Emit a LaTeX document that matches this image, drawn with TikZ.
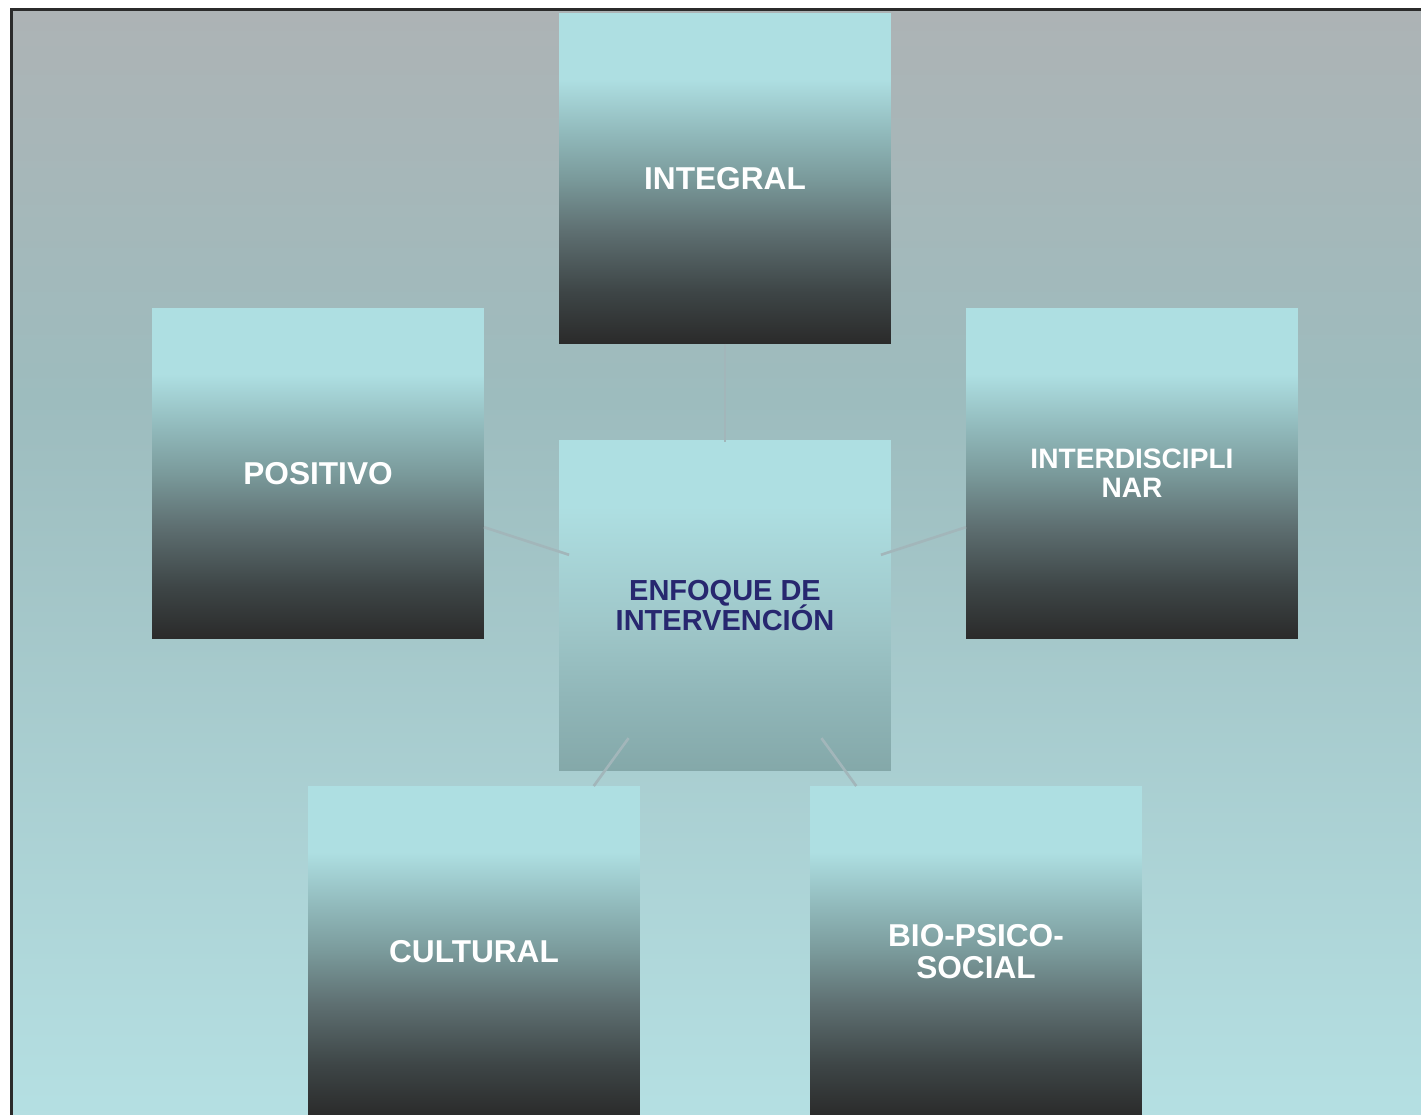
\documentclass[tikz,border=0pt]{standalone}
\usepackage{fontspec}
\setmainfont{Liberation Sans}
\usepackage{tikz}
\usetikzlibrary{positioning,calc}
\definecolor{boxcyan}{HTML}{AEDFE2}
\definecolor{boxa}{HTML}{93BCBE}
\definecolor{boxb}{HTML}{7A9A9B}
\definecolor{boxc}{HTML}{5E6F71}
\definecolor{boxd}{HTML}{3E4647}
\definecolor{boxdark}{HTML}{2A2A2A}
\definecolor{hubb}{HTML}{9EC6C8}
\definecolor{hubc}{HTML}{90B6B8}
\definecolor{hubdark}{HTML}{84A8A9}
\definecolor{bgtop}{HTML}{ADB3B5}
\definecolor{bgmid}{HTML}{9DBCBE}
\definecolor{bgbottom}{HTML}{B5E0E3}
\definecolor{navytext}{HTML}{27276F}
\definecolor{linkgray}{HTML}{A2B6BA}
\definecolor{framegray}{HTML}{2B2B2B}
\pgfdeclareverticalshading{boxshade}{100bp}{color(0bp)=(boxdark); color(25bp)=(boxdark); color(33bp)=(boxd); color(42bp)=(boxc); color(50bp)=(boxb); color(57.5bp)=(boxa); color(65bp)=(boxcyan); color(100bp)=(boxcyan)}
\pgfdeclareverticalshading{hubshade}{100bp}{color(0bp)=(hubdark); color(25bp)=(hubdark); color(36bp)=(hubc); color(46.5bp)=(hubb); color(65bp)=(boxcyan); color(100bp)=(boxcyan)}
\pgfdeclareverticalshading{bgshade}{100bp}{color(0bp)=(bgbottom); color(25bp)=(bgbottom); color(57.5bp)=(bgmid); color(75bp)=(bgtop); color(100bp)=(bgtop)}
\newcommand\hubfont{\fontsize{16.5}{17}\selectfont\bfseries\lineskiplimit=-20pt\relax}

\begin{document}
\begin{tikzpicture}[x=0.02cm,y=-0.02cm,
  outer/.style={rectangle, minimum width=6.64cm, minimum height=6.62cm, inner sep=0pt, outer sep=0pt,
    shade, shading=boxshade, text=white, align=center, font=\fontsize{18}{18.5}\selectfont\bfseries},
  hubbox/.style={outer, shading=hubshade, text=navytext, font=\hubfont},
  link/.style={draw=linkgray, line width=1.5pt, shorten >=3.28cm}]
\clip (0,0) rectangle (1421,1115);
% background and frame
\shade[shading=bgshade] (11,9) rectangle (1430,1125);
\draw[framegray, line width=1.7pt] (11.5,9.5) rectangle (1440,1140);
% boxes
\node[outer] (integral) at (725,178.5) {INTEGRAL};
\node[outer] (positivo) at (318,473.5) {POSITIVO};
\node[outer, font=\fontsize{16}{16.5}\selectfont\bfseries] (interdis) at (1132,473.5) {INTERDISCIPLI\\NAR};
\node[hubbox] (centre) at (725,605.5) {ENFOQUE DE\\INTERVENCIÓN};
\node[outer] (cultural) at (474,951.5) {CULTURAL};
\node[outer] (biopsico) at (976,951.5) {BIO-PSICO-\\SOCIAL};
% links
\foreach \n in {integral,positivo,interdis,cultural,biopsico}
  \draw[link] (\n) -- (centre.center);
\end{tikzpicture}
\end{document}
